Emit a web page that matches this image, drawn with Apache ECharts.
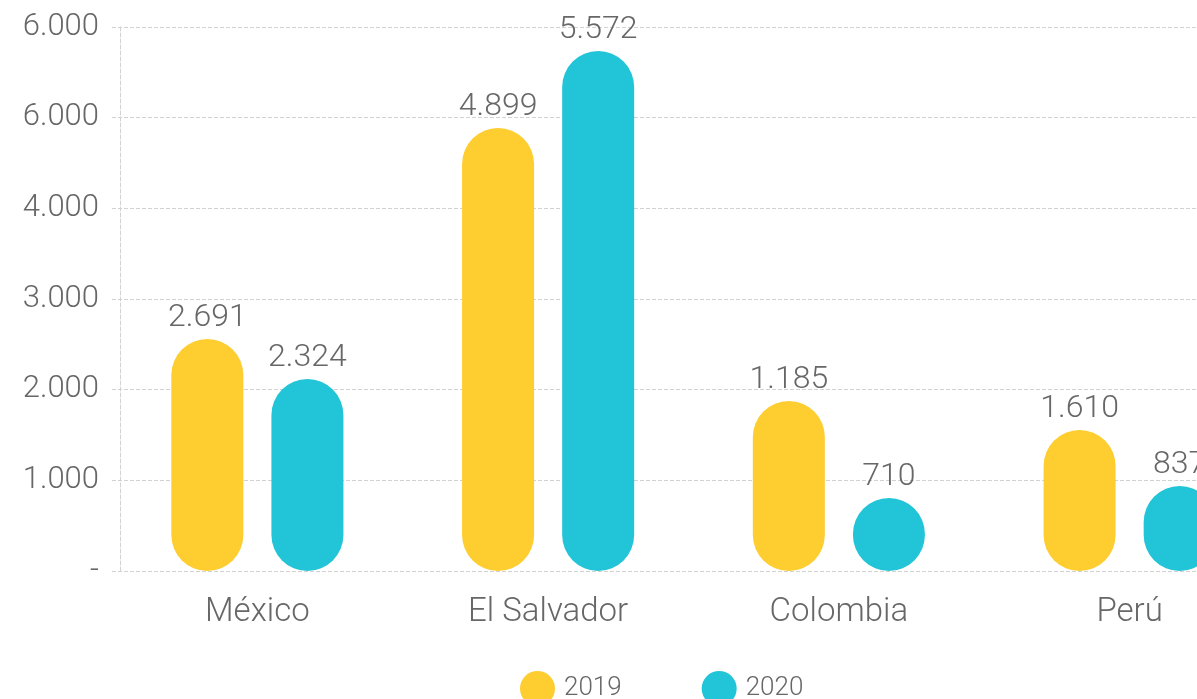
<!DOCTYPE html>
<html>
<head>
<meta charset="utf-8">
<script src="https://cdn.jsdelivr.net/npm/echarts@6/dist/echarts.min.js"></script>
<style>
  html, body { margin: 0; padding: 0; background: #fff; overflow: hidden; }
  #chart { width: 1280px; height: 699px; }
</style>
</head>
<body>
<div id="chart"></div>
<script>
// categories and series (printed values)
const countries = ['México', 'El Salvador', 'Colombia', 'Perú']
const labels2019 = ['2.691', '4.899', '1.185', '1.610']
const labels2020 = ['2.324', '5.572', '710', '837']

// bar heights as drawn in the picture (axis units, the original is not to scale)
const heights2019 = [2559, 4886, 1875, 1555]
const heights2020 = [2118, 5735, 805, 937]

// y tick labels as printed, bottom to top
const yTickLabels = ['-', '1.000', '2.000', '3.000', '4.000', '6.000', '6.000']

const FONT = 'Roboto, "Noto Sans", sans-serif'
const TEXT = '#676767'
const YELLOW = '#fecd2f'
const CYAN = '#22c4d8'

const chart = echarts.init(document.getElementById('chart'))

chart.setOption({
  backgroundColor: '#fff',
  textStyle: { fontFamily: FONT },
  legend: {
    left: 515,
    top: 666,
    icon: 'circle',
    itemWidth: 35,
    itemHeight: 35,
    itemGap: 80,
    textStyle: { fontSize: 26, color: TEXT, fontWeight: 300, padding: [0, 0, 0, 4], fontFamily: FONT },
    data: ['2019', '2020'],
  },
  grid: { left: 112, right: 5, top: 27, bottom: 128 },
  xAxis: {
    type: 'category',
    data: countries,
    axisLine: { show: false },
    axisTick: { show: false },
    axisLabel: { color: TEXT, fontSize: 33, fontWeight: 300, margin: 25, fontFamily: FONT },
  },
  yAxis: {
    type: 'value',
    min: 0,
    max: 6000,
    interval: 1000,
    offset: -8,
    axisLine: { show: true, lineStyle: { color: '#d2d2d2', type: 'dashed', width: 1 } },
    axisTick: { show: false },
    splitLine: { lineStyle: { color: '#d2d2d2', type: 'dashed', width: 1 } },
    axisLabel: {
      color: TEXT,
      fontSize: 31,
      fontWeight: 300,
      margin: 21,
      fontFamily: FONT,
      formatter: v => yTickLabels[Math.round(v / 1000)],
    },
  },
  series: [
    {
      name: '2019',
      type: 'bar',
      data: heights2019,
      barWidth: 72,
      barGap: '39%',
      itemStyle: { color: YELLOW, borderRadius: 36 },
      label: {
        show: true,
        position: 'top',
        distance: 5,
        color: TEXT,
        fontSize: 32,
        fontWeight: 300,
        fontFamily: FONT,
        formatter: p => labels2019[p.dataIndex],
      },
    },
    {
      name: '2020',
      type: 'bar',
      data: heights2020,
      barWidth: 72,
      itemStyle: { color: CYAN, borderRadius: 36 },
      label: {
        show: true,
        position: 'top',
        distance: 5,
        color: TEXT,
        fontSize: 32,
        fontWeight: 300,
        fontFamily: FONT,
        formatter: p => labels2020[p.dataIndex],
      },
    },
  ],
})
</script>
</body>
</html>
